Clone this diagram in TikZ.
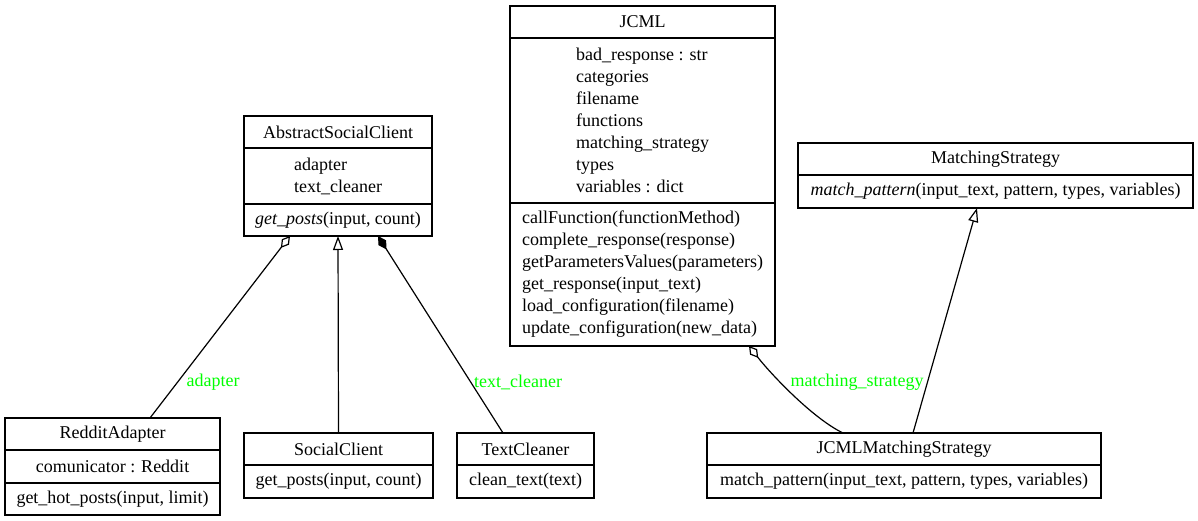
\documentclass[tikz,border=0pt]{standalone}
\usepackage{fontspec}
\setmainfont{Liberation Serif}
\usetikzlibrary{arrows.meta,positioning}
\tikzstyle{box}=[draw,line width=1.2pt,inner sep=0pt,outer sep=0pt,font=\fontsize{18}{22}\selectfont]
\tikzstyle{title box}=[box,anchor=north,minimum height=32pt]
\tikzstyle{member box}=[box,align=left]
\tikzstyle{edge}=[draw,line width=1.2pt]
\tikzstyle{aggregation}=[edge,{Diamond[open,length=15pt,width=9pt]}-]
\tikzstyle{composition}=[edge,{Diamond[length=16pt,width=9pt]}-]
\tikzstyle{inheritance}=[edge,-{Triangle[open,length=14pt,width=10pt]}]
\tikzstyle{role}=[font=\fontsize{18}{22}\selectfont,text=green,inner sep=0pt]

\begin{document}
\begin{tikzpicture}[x=1pt,y=-1pt]
    \useasboundingbox (0,0) rectangle (1198,521);
    % First we draw the class names
    \foreach \pos/\name/\w/\txt in {{(642.5,6)/jcml/265/JCML}, {(338,116)/asc/188/AbstractSocialClient}, {(995.5,143)/ms/395/MatchingStrategy}, {(112.5,418)/rda/215/RedditAdapter}, {(338.5,433)/sc/189/SocialClient}, {(525.5,433)/tc/137/TextCleaner}, {(904,433)/jms/394/JCMLMatchingStrategy}}
        \node[title box,minimum width=\w pt] (\name) at \pos {\txt};

    % Then the attributes and the methods
    \node[member box,minimum width=265pt,minimum height=165pt,below=0pt of jcml] (jcml-attr) {bad\_response : str\\categories\\filename\\functions\\matching\_strategy\\types\\variables : dict};
    \node[member box,minimum width=265pt,minimum height=143pt,below=0pt of jcml-attr] (jcml-op) {callFunction(functionMethod)\\complete\_response(response)\\getParametersValues(parameters)\\get\_response(input\_text)\\load\_configuration(filename)\\update\_configuration(new\_data)};
    \node[member box,minimum width=188pt,minimum height=56pt,below=0pt of asc] (asc-attr) {adapter\\text\_cleaner};
    \node[member box,minimum width=188pt,minimum height=32pt,below=0pt of asc-attr] (asc-op) {\textit{get\_posts}(input, count)};
    \node[member box,minimum width=395pt,minimum height=33pt,below=0pt of ms] (ms-op) {\textit{match\_pattern}(input\_text, pattern, types, variables)};
    \node[member box,minimum width=215pt,minimum height=33pt,below=0pt of rda] (rda-attr) {comunicator : Reddit};
    \node[member box,minimum width=215pt,minimum height=32pt,below=0pt of rda-attr] (rda-op) {get\_hot\_posts(input, limit)};
    \node[member box,minimum width=189pt,minimum height=33pt,below=0pt of sc] (sc-op) {get\_posts(input, count)};
    \node[member box,minimum width=137pt,minimum height=33pt,below=0pt of tc] (tc-op) {clean\_text(text)};
    \node[member box,minimum width=394pt,minimum height=33pt,below=0pt of jms] (jms-op) {match\_pattern(input\_text, pattern, types, variables)};

    % Connect classes with relations
    \path[aggregation] ([xshift=-48pt]asc-op.south) -- ([xshift=37.5pt]rda.north);
    \path[inheritance] (sc.north) -- (asc-op.south);
    \path[composition] ([xshift=40pt]asc-op.south) -- ([xshift=-22.5pt]tc.north);
    \path[aggregation] ([xshift=106.5pt]jcml-op.south) .. controls (770,373) and (812,418) .. ([xshift=-61pt]jms.north);
    \path[inheritance] ([xshift=9pt]jms.north) -- ([xshift=-18.5pt]ms-op.south);

    \node[role] (adapter-role) at (213,382) {adapter};
    \node[role] (cleaner-role) at (518,382) {text\_cleaner};
    \node[role] (strategy-role) at (857,382) {matching\_strategy};
\end{tikzpicture}
\end{document}
